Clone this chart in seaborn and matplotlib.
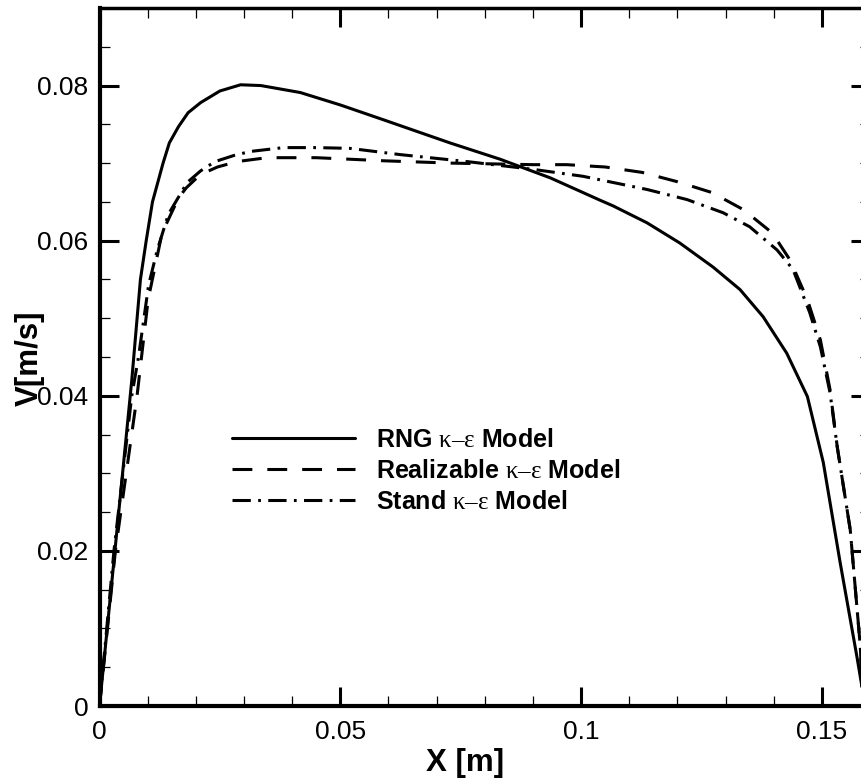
import numpy as np
import pandas as pd
import seaborn as sns
import matplotlib
matplotlib.use("Agg")
import matplotlib.pyplot as plt
from matplotlib.ticker import MultipleLocator, FixedLocator, FixedFormatter
from matplotlib.font_manager import FontProperties

# ---- data ----
rng_x = [0, 0.0032, 0.0067, 0.0085, 0.0097, 0.011, 0.0132, 0.0145, 0.0164, 0.0184, 0.021, 0.025,
         0.0293, 0.0335, 0.0417, 0.050, 0.0589, 0.0728, 0.0832, 0.0936, 0.104, 0.1066,
         0.1137, 0.1205, 0.1274, 0.1330, 0.1378, 0.1427, 0.147, 0.1503, 0.1538, 0.1573, 0.159]
rng_v = [0, 0.020, 0.042, 0.055, 0.060, 0.065, 0.070, 0.0726, 0.0747, 0.0765, 0.0778, 0.0793,
         0.0801, 0.0800, 0.0791, 0.0775, 0.0756, 0.0726, 0.0705, 0.0681, 0.0652, 0.0645,
         0.0623, 0.0597, 0.0566, 0.0537, 0.0502, 0.0455, 0.0399, 0.0314, 0.0185, 0.0063, 0.0]

real_x = [0, 0.0033, 0.0078, 0.0101, 0.013, 0.0164, 0.018, 0.0209, 0.0245, 0.0286, 0.0348, 0.045,
          0.059, 0.073, 0.090, 0.097, 0.105, 0.1127, 0.120, 0.1272, 0.1337, 0.1397,
          0.1434, 0.147, 0.1497, 0.1517, 0.1532, 0.1559, 0.158, 0.1585]
real_v = [0, 0.020, 0.040, 0.0524, 0.061, 0.0655, 0.0668, 0.0685, 0.0695, 0.0702, 0.0707, 0.0707,
          0.0703, 0.0700, 0.0698, 0.0698, 0.0695, 0.0688, 0.0676, 0.0662, 0.0640, 0.0610,
          0.0575, 0.0524, 0.0472, 0.0408, 0.0334, 0.0227, 0.0076, 0.0]

std_x = [0, 0.003, 0.0067, 0.0081, 0.0102, 0.012, 0.0143, 0.0182, 0.021, 0.024, 0.028, 0.0313,
         0.0382, 0.045, 0.052, 0.0624, 0.0763, 0.090, 0.1004, 0.1137, 0.122, 0.1295,
         0.135, 0.1407, 0.144, 0.1475, 0.1497, 0.1517, 0.1532, 0.1559, 0.158, 0.1585]
std_v = [0, 0.020, 0.040, 0.045, 0.0543, 0.0588, 0.0634, 0.0675, 0.0690, 0.0702, 0.0710, 0.0715,
         0.0720, 0.0720, 0.0719, 0.0711, 0.0702, 0.0692, 0.0683, 0.0666, 0.0653, 0.0636,
         0.0618, 0.0588, 0.0563, 0.0507, 0.0463, 0.0404, 0.0334, 0.0227, 0.0076, 0.0]

labels = [r"RNG $\mathrm{\kappa–\varepsilon}$ Model",
          r"Realizable $\mathrm{\kappa–\varepsilon}$ Model",
          r"Stand $\mathrm{\kappa–\varepsilon}$ Model"]

xticks = [0, 0.05, 0.1, 0.15]
xticklabels = ["0", "0.05", "0.1", "0.15"]
yticks = [0, 0.02, 0.04, 0.06, 0.08]
yticklabels = ["0", "0.02", "0.04", "0.06", "0.08"]

# ---- style ----
sns.set_theme(style="white")
plt.rcParams["font.family"] = ["Liberation Sans", "DejaVu Sans"]
plt.rcParams["mathtext.fontset"] = "custom"
plt.rcParams["mathtext.rm"] = "Liberation Serif"
plt.rcParams["mathtext.it"] = "Liberation Serif:italic"
plt.rcParams["mathtext.bf"] = "Liberation Serif:bold"
for k in ["text.color", "axes.labelcolor", "xtick.color", "ytick.color", "axes.edgecolor"]:
    plt.rcParams[k] = "black"

W, H = 861, 779
fig = plt.figure(figsize=(W / 100, H / 100), dpi=100)
left, right, top, bottom = 99.5, 870.0, 8.0, 706.0
ax = fig.add_axes([left / W, (H - bottom) / H, (right - left) / W, (bottom - top) / H])

lw = 2.2
styles = ["-", (0, (6.5, 4.9)), (0, (6.0, 2.4, 0.9, 2.4))]
series = [(rng_x, rng_v), (real_x, real_v), (std_x, std_v)]
for (xs, vs), lab, ls in zip(series, labels, styles):
    df = pd.DataFrame({"x": xs, "v": vs})
    sns.lineplot(data=df, x="x", y="v", ax=ax, color="black", lw=lw,
                 linestyle=ls, sort=False, estimator=None, label=lab)

ax.set_xlim(0, 0.16)
ax.set_ylim(0, 0.09)

ax.xaxis.set_major_locator(FixedLocator(xticks))
ax.xaxis.set_major_formatter(FixedFormatter(xticklabels))
ax.yaxis.set_major_locator(FixedLocator(yticks))
ax.yaxis.set_major_formatter(FixedFormatter(yticklabels))
ax.xaxis.set_minor_locator(MultipleLocator(0.01))
ax.yaxis.set_minor_locator(MultipleLocator(0.005))

ax.tick_params(which="both", direction="in", top=True, right=True,
               bottom=True, left=True, colors="black")
ax.tick_params(which="major", length=14, width=2.2, labelsize=19, pad=8)
ax.tick_params(axis="x", which="major", pad=10)
ax.tick_params(which="minor", length=7.5, width=0.9)

for s in ax.spines.values():
    s.set_visible(True)
    s.set_color("black")
    s.set_linewidth(3)
ax.spines["top"].set_linewidth(2.5)

ax.set_xlabel("X [m]", fontsize=22.5, fontweight="bold")
ax.set_ylabel("V[m/s]", fontsize=22.5, fontweight="bold")
ax.xaxis.set_label_coords((465 - left) / (right - left), (bottom - 748) / (bottom - top))
ax.yaxis.set_label_coords((45 - left) / (right - left), (bottom - 358) / (bottom - top))

leg = ax.legend(loc="upper left",
                bbox_to_anchor=((232 - left) / (right - left), (bottom - 428) / (bottom - top)),
                frameon=False, handlelength=4.9, handletextpad=0.88, labelspacing=0.28,
                borderpad=0, borderaxespad=0,
                prop=FontProperties(family="Liberation Sans", weight="bold", size=18))
for h in leg.get_lines():
    h.set_linewidth(lw)
for t in leg.get_texts():
    t.set_color("black")

ax.set_facecolor("white")
fig.patch.set_facecolor("white")
fig.savefig("out.png", dpi=100)
